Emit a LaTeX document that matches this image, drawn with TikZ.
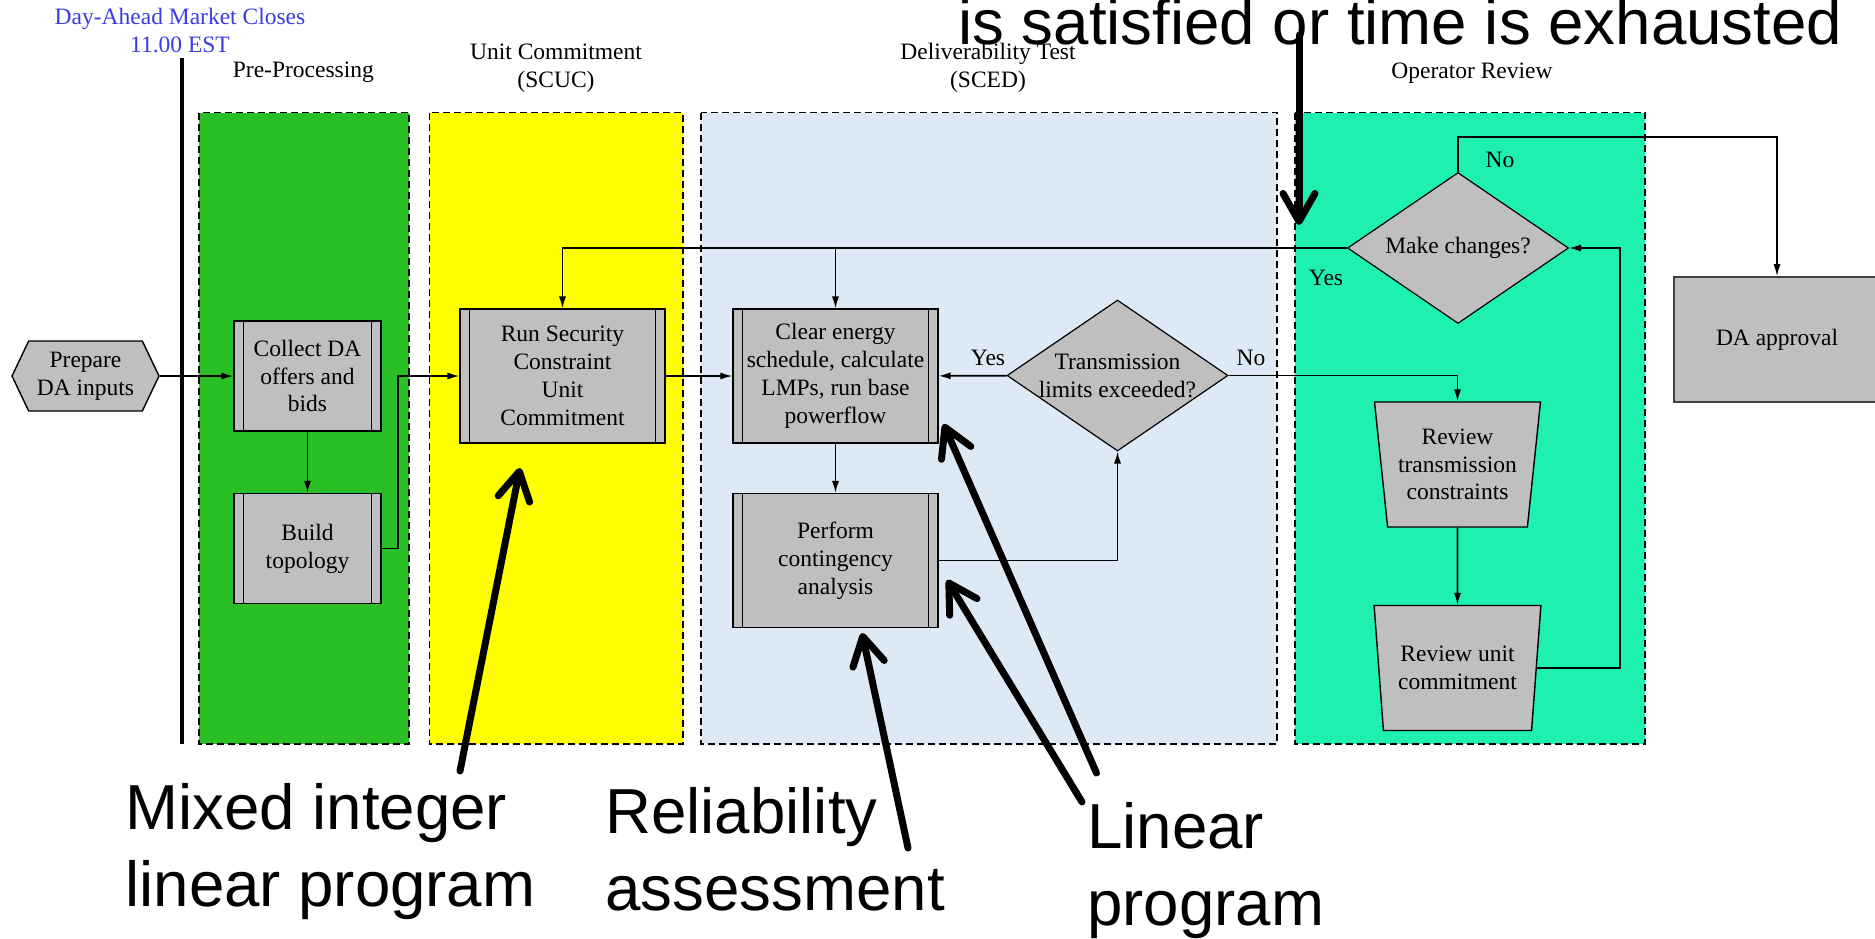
\documentclass[tikz,border=0pt]{standalone}
\usepackage{fontspec}
\setmainfont{Liberation Serif}
\newfontfamily\notefamily{Liberation Sans}
\usetikzlibrary{arrows.meta,shapes.geometric,shapes.symbols}
\definecolor{boxgray}{RGB}{191,191,191}
\definecolor{prepgreen}{RGB}{42,191,37}
\definecolor{scucyellow}{RGB}{255,255,0}
\definecolor{scedblue}{RGB}{221,233,245}
\definecolor{reviewteal}{RGB}{30,240,178}
\definecolor{closeblue}{RGB}{60,60,228}
\newcommand{\flowfont}{\fontsize{11.75}{13.9}\selectfont}
\newcommand{\notefont}{\notefamily\fontsize{31.8}{38.4}\selectfont}
\tikzset{
  swim lane/.style={draw, line width=0.6pt, dash pattern=on 3.5pt off 2pt},
  lane title/.style={font=\flowfont, align=center, anchor=base, inner sep=0pt},
  process box/.style={rectangle, draw, fill=boxgray, line width=0.7pt, font=\flowfont, align=center,
    inner sep=2pt, minimum width=102.5pt, minimum height=67pt,
    path picture={\draw[line width=0.7pt]
      ([xshift=4.75pt]path picture bounding box.north west) -- ([xshift=4.75pt]path picture bounding box.south west)
      ([xshift=-4.75pt]path picture bounding box.north east) -- ([xshift=-4.75pt]path picture bounding box.south east);}},
  small process/.style={process box, minimum width=73.5pt, minimum height=55pt},
  decision box/.style={diamond, draw, fill=boxgray, line width=0.6pt, font=\flowfont, align=center,
    aspect=1.46, inner xsep=-4pt, inner ysep=0pt, minimum width=110.5pt, minimum height=75.5pt},
  review box/.style={trapezium, trapezium angle=98, trapezium stretches=true, draw, fill=boxgray,
    line width=0.7pt, font=\flowfont, align=center, inner xsep=2pt, minimum width=83.5pt, minimum height=62.5pt},
  input box/.style={signal, signal to=west and east, signal pointer angle=129, draw, fill=boxgray,
    line width=0.7pt, font=\flowfont, align=center, inner sep=1pt, minimum width=73.5pt, minimum height=35pt},
  end box/.style={rectangle, draw=black!75, line width=0.9pt, fill=boxgray, font=\flowfont,
    minimum width=103pt, minimum height=62.5pt},
  flow/.style={line width=0.8pt, -{Latex[length=6pt,width=3.6pt]}},
  flow label/.style={font=\flowfont, anchor=base, inner sep=0pt},
  big note/.style={font=\notefont, align=left, anchor=base west, inner sep=0pt},
  callout/.style={line width=3.5pt, line cap=round, -{Straight Barb[length=14pt,width=16pt,round]}}
}

\begin{document}
\begin{tikzpicture}[x=0.5pt, y=-0.5pt]
  \useasboundingbox[fill=white] (0,0) rectangle (1875,938);

  \draw[swim lane, fill=prepgreen] (199,112.7) rectangle (409,744);
  \draw[swim lane, fill=scucyellow] (429.5,112.7) rectangle (683,744);
  \draw[swim lane, fill=scedblue] (701,112.7) rectangle (1277,744);
  \draw[swim lane, fill=reviewteal] (1295,112.7) rectangle (1645,744);
  \draw[line width=2pt] (182,58) -- (182,744);

  \node[lane title, text=closeblue] (close) at (180,52.7) {Day-Ahead Market Closes\\11.00 EST};
  \node[lane title] (pretitle) at (303.4,77.3) {Pre-Processing};
  \node[lane title] (scuctitle) at (556,87) {Unit Commitment\\(SCUC)};
  \node[lane title] (scedtitle) at (988,87) {Deliverability Test\\(SCED)};
  \node[lane title] (revtitle) at (1472,78) {Operator Review};

  \node[input box] (prep) at (85.5,376) {Prepare\\DA inputs};
  \node[small process] (collect) at (307.5,376) {Collect DA\\offers and\\bids};
  \node[small process] (topo) at (307.5,548.5) {Build\\topology};
  \node[process box] (scuc) at (562.5,376) {Run Security\\Constraint\\Unit\\Commitment};
  \node[process box] (sced) at (835.5,376) {Clear energy\\schedule, calculate\\LMPs, run base\\powerflow};
  \node[process box] (ctg) at (835.5,560.5) {Perform\\contingency\\analysis};
  \node[decision box] (txlim) at (1117.5,375.5) {Transmission\\limits exceeded?};
  \node[decision box] (change) at (1458,248) {Make changes?};
  \node[review box] (revtx) at (1457.5,464.5) {Review\\transmission\\constraints};
  \node[review box] (revuc) at (1457.5,668) {Review unit\\commitment};
  \node[end box] (approve) at (1777,339.5) {DA approval};

  \node[flow label] (txyes) at (988,365) {Yes};
  \node[flow label] (txno) at (1251,365) {No};
  \node[flow label] (chno) at (1500,167.7) {No};
  \node[flow label] (chyes) at (1326,285.7) {Yes};

  \draw[flow] (prep) -- (collect);
  \draw[flow] (collect) -- (topo);
  \draw[flow] (topo.east) -- ++(16,0) |- (scuc.west);
  \draw[flow] (scuc) -- (sced);
  \draw[flow] (sced) -- (ctg);
  \draw[flow] (ctg.east) -| (txlim.south);
  \draw[flow] (txlim) -- (sced);
  \draw[flow] (txlim.east) -| (revtx.north);
  \draw[flow] (revtx) -- (revuc);
  \draw[flow] (revuc.east) -- ++(83,0) |- (change.east);
  \draw[flow] (change.north) -- ++(0,-35) -| (approve.north);
  \draw[flow] (change.west) -| (scuc.north);
  \draw[flow] (sced.north |- change.west) -- (sced.north);

  \node[big note] (conv) at (958,44.3) {is satisfied or time is exhausted};
  \node[big note] (milp) at (125,906.7) {Mixed integer\\linear program};
  \node[big note] (rel) at (605,910.7) {Reliability\\assessment};
  \node[big note] (lp) at (1087,925) {Linear\\program};

  \coordinate (convtail) at (1299,35);
  \coordinate (milptail) at (460,771);
  \coordinate (reltail) at (908,848);
  \coordinate (lptailA) at (1096.5,773);
  \coordinate (lptailB) at (1082,802);
  \draw[callout] (convtail) -- (1299,225);
  \draw[callout] (milptail) -- (520,468);
  \draw[callout] (reltail) -- (862,633);
  \draw[callout] (lptailA) -- (943.5,424);
  \draw[callout] (lptailB) -- (947,580);
\end{tikzpicture}
\end{document}
